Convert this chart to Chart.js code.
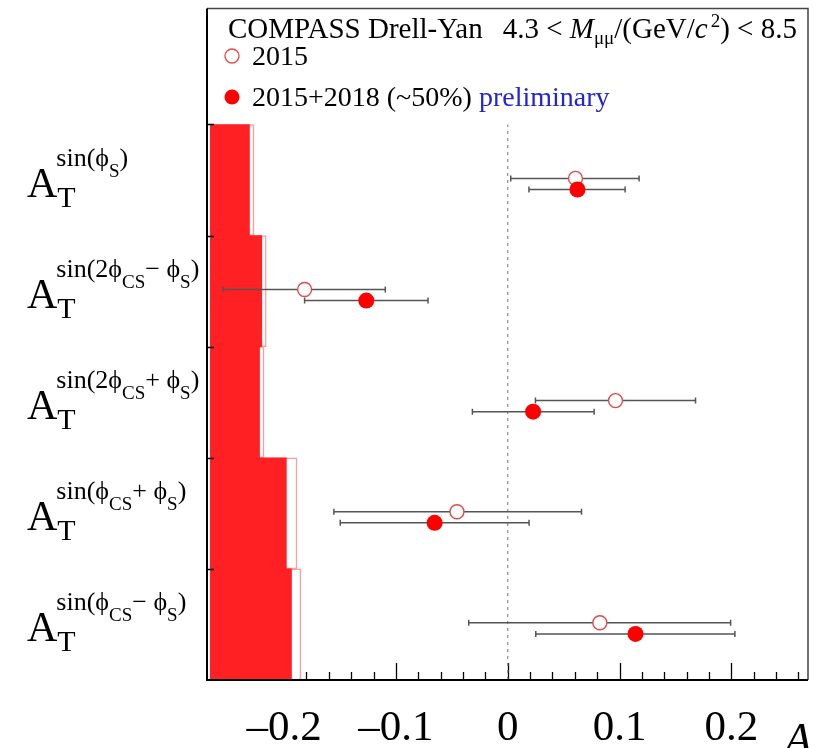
<!DOCTYPE html>
<html>
<head>
<meta charset="utf-8">
<script src="https://cdn.jsdelivr.net/npm/chart.js@4.4.1/dist/chart.umd.min.js"></script>
<style>
  html, body { margin: 0; padding: 0; background: #fff; }
</style>
</head>
<body>
<canvas id="asymChart" width="823" height="748"></canvas>
<script>
// rows, top to bottom: superscript of A_T, as [text, isSubscript] pieces
const moments = [
    [['sin(\u03d5', 0], ['S', 1], [')', 0]],
    [['sin(2\u03d5', 0], ['CS', 1], ['\u2212 \u03d5', 0], ['S', 1], [')', 0]],
    [['sin(2\u03d5', 0], ['CS', 1], ['+ \u03d5', 0], ['S', 1], [')', 0]],
    [['sin(\u03d5', 0], ['CS', 1], ['+ \u03d5', 0], ['S', 1], [')', 0]],
    [['sin(\u03d5', 0], ['CS', 1], ['\u2212 \u03d5', 0], ['S', 1], [')', 0]]
];

// 2015 (open circles)
const val2015 = [0.0606, -0.1817, 0.0964, -0.0454, 0.0824];
const lo2015 = [0.0027, -0.2549, 0.0248, -0.1555, -0.0349];
const hi2015 = [0.1175, -0.1095, 0.1680, 0.0660, 0.1994];
const sys2015 = [0.039, 0.050, 0.048, 0.0775, 0.081];

// 2015+2018 (~50%) (filled circles)
const valAll = [0.0624, -0.1265, 0.0227, -0.0654, 0.1143];
const loAll = [0.0190, -0.1817, -0.0316, -0.1498, 0.0251];
const hiAll = [0.1050, -0.0713, 0.0773, 0.0191, 0.2032];
const sysAll = [0.035, 0.046, 0.044, 0.068, 0.0726];

const xTicks = [-0.2, -0.1, 0, 0.1, 0.2];
const xTickLabels = ['\u20130.2', '\u20130.1', '0', '0.1', '0.2'];

const X_MIN = -0.269, X_MAX = 0.2686, Y_MAX = 6.045, SYS_BASE = -0.266;
const N = moments.length;
const rowY = i => N - i - 0.5;
const SERIF = '"Liberation Serif", "Times New Roman", serif';

function drawPieces(ctx, x, y, pieces) {
    for (const p of pieces) {
        ctx.font = p.font;
        ctx.fillStyle = p.color || '#000';
        ctx.fillText(p.text, x, y + (p.dy || 0));
        x += ctx.measureText(p.text).width + (p.gap || 0);
    }
    return x;
}

const decor = {
    id: 'decor',
    beforeDatasetsDraw(chart) {
        const ctx = chart.ctx, xs = chart.scales.x, a = chart.chartArea;
        ctx.save();
        ctx.strokeStyle = '#000';
        ctx.lineWidth = 1.3;
        ctx.beginPath();
        for (let k = -13; k <= 13; k++) {
            const px = Math.round(xs.getPixelForValue(k * 0.02)) + 0.5;
            const len = k % 5 === 0 ? 17 : 8;
            ctx.moveTo(px, a.bottom);
            ctx.lineTo(px, a.bottom - len);
        }
        ctx.stroke();
        ctx.restore();
    },
    beforeDatasetDraw(chart, args) {
        const ds = chart.data.datasets[args.index];
        if (!ds.err) return;
        const ctx = chart.ctx, xs = chart.scales.x, ys = chart.scales.y;
        ctx.save();
        ctx.strokeStyle = '#555';
        ctx.lineWidth = 1.5;
        ds.data.forEach((pt, i) => {
            const y = ys.getPixelForValue(pt.y);
            const x1 = xs.getPixelForValue(ds.err.lo[i]);
            const x2 = xs.getPixelForValue(ds.err.hi[i]);
            ctx.beginPath();
            ctx.moveTo(x1, y); ctx.lineTo(x2, y);
            ctx.moveTo(x1, y - 3); ctx.lineTo(x1, y + 3);
            ctx.moveTo(x2, y - 3); ctx.lineTo(x2, y + 3);
            ctx.stroke();
        });
        ctx.restore();
    },
    afterDraw(chart) {
        const ctx = chart.ctx, xs = chart.scales.x, ys = chart.scales.y, a = chart.chartArea;
        ctx.save();

        // frame
        ctx.strokeStyle = '#444';
        ctx.lineWidth = 1.5;
        ctx.beginPath();
        ctx.moveTo(a.left, a.top); ctx.lineTo(a.right, a.top); ctx.lineTo(a.right, a.bottom);
        ctx.stroke();
        ctx.strokeStyle = '#000';
        ctx.lineWidth = 2;
        ctx.beginPath();
        ctx.moveTo(a.left, a.top); ctx.lineTo(a.left, a.bottom); ctx.lineTo(a.right, a.bottom);
        ctx.stroke();
        ctx.lineWidth = 1.3;
        ctx.beginPath();
        for (let r = 1; r <= N; r++) {
            const py = Math.round(ys.getPixelForValue(r)) + 0.5;
            ctx.moveTo(a.left, py); ctx.lineTo(a.left + 7, py);
        }
        ctx.stroke();

        // x tick labels
        ctx.fillStyle = '#000';
        ctx.textAlign = 'center';
        ctx.textBaseline = 'alphabetic';
        ctx.font = '43px ' + SERIF;
        xTicks.forEach((v, i) => ctx.fillText(xTickLabels[i], xs.getPixelForValue(v), 740));

        // axis title
        ctx.textAlign = 'right';
        ctx.font = 'italic 46px ' + SERIF;
        ctx.fillText('A', 812, 755);

        // row labels
        ctx.textAlign = 'left';
        moments.forEach((parts, i) => {
            const cy = ys.getPixelForValue(rowY(i));
            ctx.font = '42px ' + SERIF;
            ctx.fillText('A', 27, cy + 17);
            const ax = 27 + ctx.measureText('A').width;
            ctx.font = '30px ' + SERIF;
            ctx.fillText('T', ax, cy + 27);
            drawPieces(ctx, ax - 1, cy - 14, parts.map(([t, sub]) => ({
                text: t,
                font: (sub ? '19px ' : '26px ') + SERIF,
                dy: sub ? 11 : 0
            })));
        });

        // legend
        drawPieces(ctx, 228, 38, [
            { text: 'COMPASS Drell-Yan', font: '29px ' + SERIF, gap: 20 },
            { text: '4.3 < ', font: '29px ' + SERIF },
            { text: 'M', font: 'italic 29px ' + SERIF },
            { text: '\u03bc\u03bc', font: '19px ' + SERIF, dy: 6 },
            { text: '/(GeV/', font: '29px ' + SERIF },
            { text: 'c', font: 'italic 29px ' + SERIF, gap: 3 },
            { text: '2', font: '19px ' + SERIF, dy: -11 },
            { text: ') < 8.5', font: '29px ' + SERIF }
        ]);
        ctx.lineWidth = 1.3;
        ctx.strokeStyle = '#e8474a';
        ctx.fillStyle = '#fff';
        ctx.beginPath(); ctx.arc(232, 56, 7, 0, Math.PI * 2); ctx.fill(); ctx.stroke();
        ctx.fillStyle = '#ff0000';
        ctx.beginPath(); ctx.arc(232, 97, 7.5, 0, Math.PI * 2); ctx.fill();
        drawPieces(ctx, 252, 65, [{ text: '2015', font: '28px ' + SERIF }]);
        drawPieces(ctx, 252, 106, [
            { text: '2015+2018 (~50%) ', font: '28px ' + SERIF },
            { text: 'preliminary', font: '28px ' + SERIF, color: '#2323d8' }
        ]);
        ctx.restore();
    }
};

const ctx = document.getElementById('asymChart').getContext('2d');
new Chart(ctx, {
    type: 'scatter',
    data: {
        datasets: [
            {
                label: '2015+2018 (~50%)',
                data: valAll.map((v, i) => ({ x: v, y: rowY(i) - 0.085 })),
                err: { lo: loAll, hi: hiAll },
                pointRadius: 8,
                pointBackgroundColor: '#ff0000',
                pointBorderColor: '#ff0000',
                pointBorderWidth: 0,
                order: 0
            },
            {
                label: '2015',
                data: val2015.map((v, i) => ({ x: v, y: rowY(i) + 0.015 })),
                err: { lo: lo2015, hi: hi2015 },
                pointRadius: 7,
                pointBackgroundColor: '#ffffff',
                pointBorderColor: '#e8474a',
                pointBorderWidth: 1.4,
                order: 1
            },
            {
                type: 'line',
                label: 'zero',
                data: [{ x: 0, y: 0 }, { x: 0, y: N }],
                borderColor: '#8a8a8a',
                borderWidth: 1.2,
                borderDash: [3, 4],
                pointRadius: 0,
                order: 3
            },
            {
                type: 'bar',
                label: 'sys 2015+2018',
                indexAxis: 'y',
                grouped: false,
                data: sysAll.map((s, i) => ({ x: [SYS_BASE, SYS_BASE + s], y: rowY(i) })),
                backgroundColor: '#ff2024',
                borderWidth: 0,
                barPercentage: 1,
                categoryPercentage: 1,
                order: 4
            },
            {
                type: 'bar',
                label: 'sys 2015',
                indexAxis: 'y',
                grouped: false,
                data: sys2015.map((s, i) => ({ x: [SYS_BASE, SYS_BASE + s], y: rowY(i) })),
                backgroundColor: '#ffffff',
                borderColor: '#ff9c9c',
                borderWidth: 1.5,
                borderSkipped: false,
                barPercentage: 1,
                categoryPercentage: 1,
                order: 5
            }
        ]
    },
    options: {
        responsive: false,
        animation: false,
        devicePixelRatio: 1,
        layout: { padding: { left: 207, top: 5, right: 15, bottom: 68 } },
        plugins: { legend: { display: false }, tooltip: { enabled: false } },
        scales: {
            x: { type: 'linear', min: X_MIN, max: X_MAX, offset: false, display: false },
            y: { type: 'linear', min: 0, max: Y_MAX, offset: false, display: false }
        }
    },
    plugins: [decor]
});
</script>
</body>
</html>
